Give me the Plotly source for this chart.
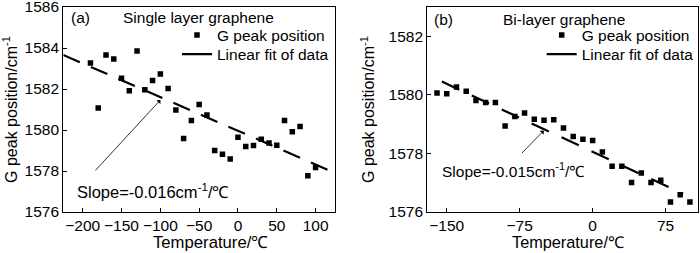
import numpy as np
import plotly.graph_objects as go
from plotly.subplots import make_subplots

# ---------------- data ----------------
temp_a = [-190, -180, -170, -160, -150, -140, -130, -120, -110, -100,
          -90, -80, -70, -60, -50, -40, -30, -20, -10, 0,
          10, 20, 30, 40, 50, 60, 70, 80, 90, 100]
peak_a = [1583.27, 1581.07, 1583.66, 1583.46, 1582.52, 1581.91, 1583.85, 1581.96, 1582.42, 1582.73,
          1582.03, 1580.97, 1579.58, 1580.46, 1581.24, 1580.73, 1579.00, 1578.82, 1578.58, 1579.65,
          1579.19, 1579.24, 1579.55, 1579.37, 1579.26, 1580.46, 1579.91, 1580.17, 1577.77, 1578.17]

temp_b = [-160, -150, -140, -130, -120, -110, -100, -90, -80, -70,
          -60, -50, -40, -30, -20, -10, 0, 10, 20, 30,
          40, 50, 60, 70, 80, 90, 100]
peak_b = [1580.06, 1580.04, 1580.27, 1580.12, 1579.81, 1579.74, 1579.74, 1578.94, 1579.26, 1579.38,
          1579.17, 1579.13, 1579.15, 1578.87, 1578.58, 1578.48, 1578.44, 1578.05, 1577.56, 1577.56,
          1577.01, 1577.33, 1577.01, 1577.08, 1576.34, 1576.59, 1576.34]

fit_a_T = [-225, 125]
fit_b_T = [-155, 93]

xticks_a = [-200, -150, -100, -50, 0, 50, 100]
yticks_a = [1576, 1578, 1580, 1582, 1584, 1586]
xticks_b = [-150, -75, 0, 75]
yticks_b = [1576, 1578, 1580, 1582]

slope_a, icpt_a = np.polyfit(temp_a, peak_a, 1)
slope_b, icpt_b = np.polyfit(temp_b, peak_b, 1)
fit_a_y = [slope_a * t + icpt_a for t in fit_a_T]
fit_b_y = [slope_b * t + icpt_b for t in fit_b_T]

FONT = "Liberation Sans, Arial, sans-serif"
W, H = 700, 253

fig = make_subplots(rows=1, cols=2)

# panel a
fig.add_trace(go.Scatter(x=temp_a, y=peak_a, mode="markers", name="G peak position",
                         marker=dict(symbol="square", size=5.5, color="black"),
                         legend="legend"), row=1, col=1)
fig.add_trace(go.Scatter(x=fit_a_T, y=fit_a_y, mode="lines", name="Linear fit of data",
                         line=dict(color="black", width=2.2, dash="18px,12px"),
                         showlegend=False), row=1, col=1)
fig.add_trace(go.Scatter(x=[None], y=[None], mode="lines", name="Linear fit of data",
                         line=dict(color="black", width=2.2), legend="legend2"), row=1, col=1)

# panel b
fig.add_trace(go.Scatter(x=temp_b, y=peak_b, mode="markers", name="G peak position",
                         marker=dict(symbol="square", size=5.5, color="black"),
                         legend="legend3"), row=1, col=2)
fig.add_trace(go.Scatter(x=fit_b_T, y=fit_b_y, mode="lines", name="Linear fit of data",
                         line=dict(color="black", width=2.2, dash="19px,14px"),
                         showlegend=False), row=1, col=2)
fig.add_trace(go.Scatter(x=[None], y=[None], mode="lines", name="Linear fit of data",
                         line=dict(color="black", width=2.2), legend="legend4"), row=1, col=2)

ax_common = dict(showline=True, mirror=True, linecolor="black", linewidth=1.3,
                 ticks="inside", ticklen=4, tickwidth=1.2, tickcolor="black",
                 showgrid=False, zeroline=False, ticklabeloverflow="allow",
                 automargin=False,
                 tickfont=dict(family=FONT, size=15.5, color="black"))

ybot = 1 - 212 / H
ytop = 1 - 7 / H

fig.update_xaxes(ax_common)
fig.update_yaxes(ax_common)


def leg(x, y):
    return dict(x=x / W, y=1 - y / H, xanchor="left", yanchor="top",
                bgcolor="rgba(0,0,0,0)", font=dict(family=FONT, size=15.5, color="black"))


fig.update_layout(
    width=W, height=H,
    margin=dict(l=0, r=0, t=0, b=0),
    paper_bgcolor="white", plot_bgcolor="white",
    font=dict(family=FONT, size=15.5, color="black"),
    xaxis=dict(domain=[63.3 / W, 335 / W], range=[-225, 125], tickvals=xticks_a,
               ticklabelstandoff=-1),
    yaxis=dict(domain=[ybot, ytop], range=[1576, 1586], tickvals=yticks_a,
               title=dict(text="G peak position/cm<sup>-1</sup>", font=dict(size=16), standoff=9)),
    xaxis2=dict(domain=[427.3 / W, 697.7 / W], range=[-170, 108], tickvals=xticks_b,
                ticklabelstandoff=-1),
    yaxis2=dict(domain=[ybot, ytop], range=[1576, 1583], tickvals=yticks_b,
                title=dict(text="G peak position/cm<sup>-1</sup>", font=dict(size=16), standoff=9)),
    legend=leg(177, 18.5),
    legend2=leg(177, 37.5),
    legend3=leg(541.7, 18.5),
    legend4=leg(541.7, 37.5),
)


def txt(x, y, s, size=15.5, anchor="left"):
    fig.add_annotation(x=x / W, y=1 - y / H, xref="paper", yref="paper", text=s,
                       showarrow=False, xanchor=anchor, yanchor="middle",
                       font=dict(family=FONT, size=size, color="black"))


txt(68.5, 17.5, "(a)")
txt(121, 17.5, "Single layer graphene")
txt(75, 191, "Slope=-0.016cm<sup>-1</sup>/℃", 16.5)
txt(432, 19, "(b)")
txt(501, 19, "Bi-layer graphene")
txt(440, 170, "Slope=-0.015cm<sup>-1</sup>/℃")
# x-axis titles
txt(210, 242, "Temperature/℃", 16.7, "center")
txt(568, 242, "Temperature/℃", 16.3, "center")

# arrows (data coordinates)
fig.add_annotation(x=-100, y=1581.46, xref="x", yref="y", ax=-185.5, ay=1577.95,
                   axref="x", ayref="y", text="", showarrow=True, arrowhead=1,
                   arrowsize=1.2, arrowwidth=0.8, arrowcolor="black", standoff=0)
fig.add_annotation(x=-50.3, y=1578.78, xref="x2", yref="y2", ax=-74.2, ay=1577.96,
                   axref="x2", ayref="y2", text="", showarrow=True, arrowhead=1,
                   arrowsize=1.2, arrowwidth=0.8, arrowcolor="black", standoff=0)

fig.write_html("out.html", config={"displayModeBar": False},
               post_script="document.body.style.margin='0px';document.body.style.overflow='hidden';")
